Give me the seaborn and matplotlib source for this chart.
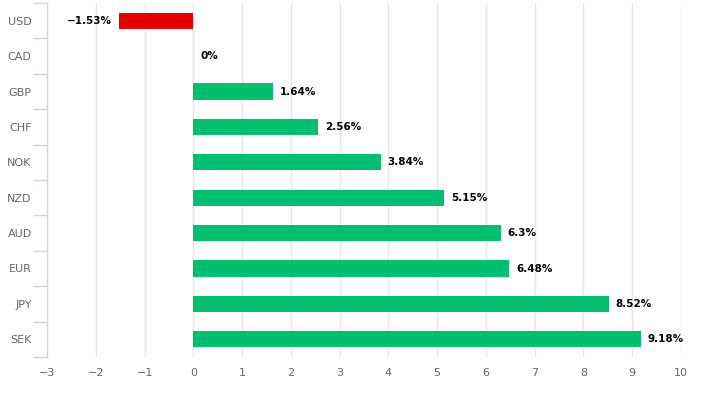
import matplotlib
matplotlib.use("Agg")
import matplotlib.pyplot as plt
import seaborn as sns
import pandas as pd
import numpy as np

currencies = ["USD", "CAD", "GBP", "CHF", "NOK", "NZD", "AUD", "EUR", "JPY", "SEK"]
changes = [-1.53, 0.0, 1.64, 2.56, 3.84, 5.15, 6.3, 6.48, 8.52, 9.18]
labels = ["\u22121.53%", "0%", "1.64%", "2.56%", "3.84%", "5.15%", "6.3%", "6.48%", "8.52%", "9.18%"]
xticks = list(range(-3, 11))

sns.set_theme(style="white")
plt.rcParams['font.family'] = ['DejaVu Sans']

df = pd.DataFrame({"cur": currencies, "chg": changes})
colors = ["#e60000" if v < 0 else "#00bf6f" for v in changes]

fig = plt.figure(figsize=(7.01, 3.98), dpi=100)
ax = fig.add_axes([47/701, 41/398, 634/701, 354/398])
sns.barplot(data=df, x="chg", y="cur", hue="cur", palette=colors, legend=False,
            orient="h", width=0.46, ax=ax, saturation=1, zorder=3, linewidth=0)

ax.set_xlim(-3, 10)
ax.set_ylim(len(currencies) - 0.5, -0.5)
ax.set_xticks(xticks)
ax.set_xticklabels([str(t).replace("-", "\u2212") for t in xticks], color="#666666", fontsize=8)
ax.xaxis.grid(True, color="#e6e6e6", linewidth=1, zorder=0)
ax.set_axisbelow(True)
ax.tick_params(axis="x", length=0, pad=8)
ax.tick_params(axis="y", which="major", left=False, length=0, pad=11, labelsize=8, labelcolor="#666666")
ax.set_yticks(np.arange(-0.5, len(currencies), 1.0), minor=True)
ax.tick_params(axis="y", which="minor", left=True, length=10, color="#ccd6eb", width=1, labelleft=False)
ax.set_xlabel("")
ax.set_ylabel("")
for s in ["top", "right", "bottom"]:
    ax.spines[s].set_visible(False)
ax.spines["left"].set_color("#ccd6eb")
ax.spines["left"].set_linewidth(1)

for i, (v, lab) in enumerate(zip(changes, labels)):
    if v < 0:
        ax.annotate(lab, (v, i), xytext=(-5, 0), textcoords="offset points",
                    ha="right", va="center", fontsize=7.5, fontweight="bold", color="#000000")
    else:
        ax.annotate(lab, (v, i), xytext=(5, 0), textcoords="offset points",
                    ha="left", va="center", fontsize=7.5, fontweight="bold", color="#000000")

fig.savefig("out.png", dpi=100)
